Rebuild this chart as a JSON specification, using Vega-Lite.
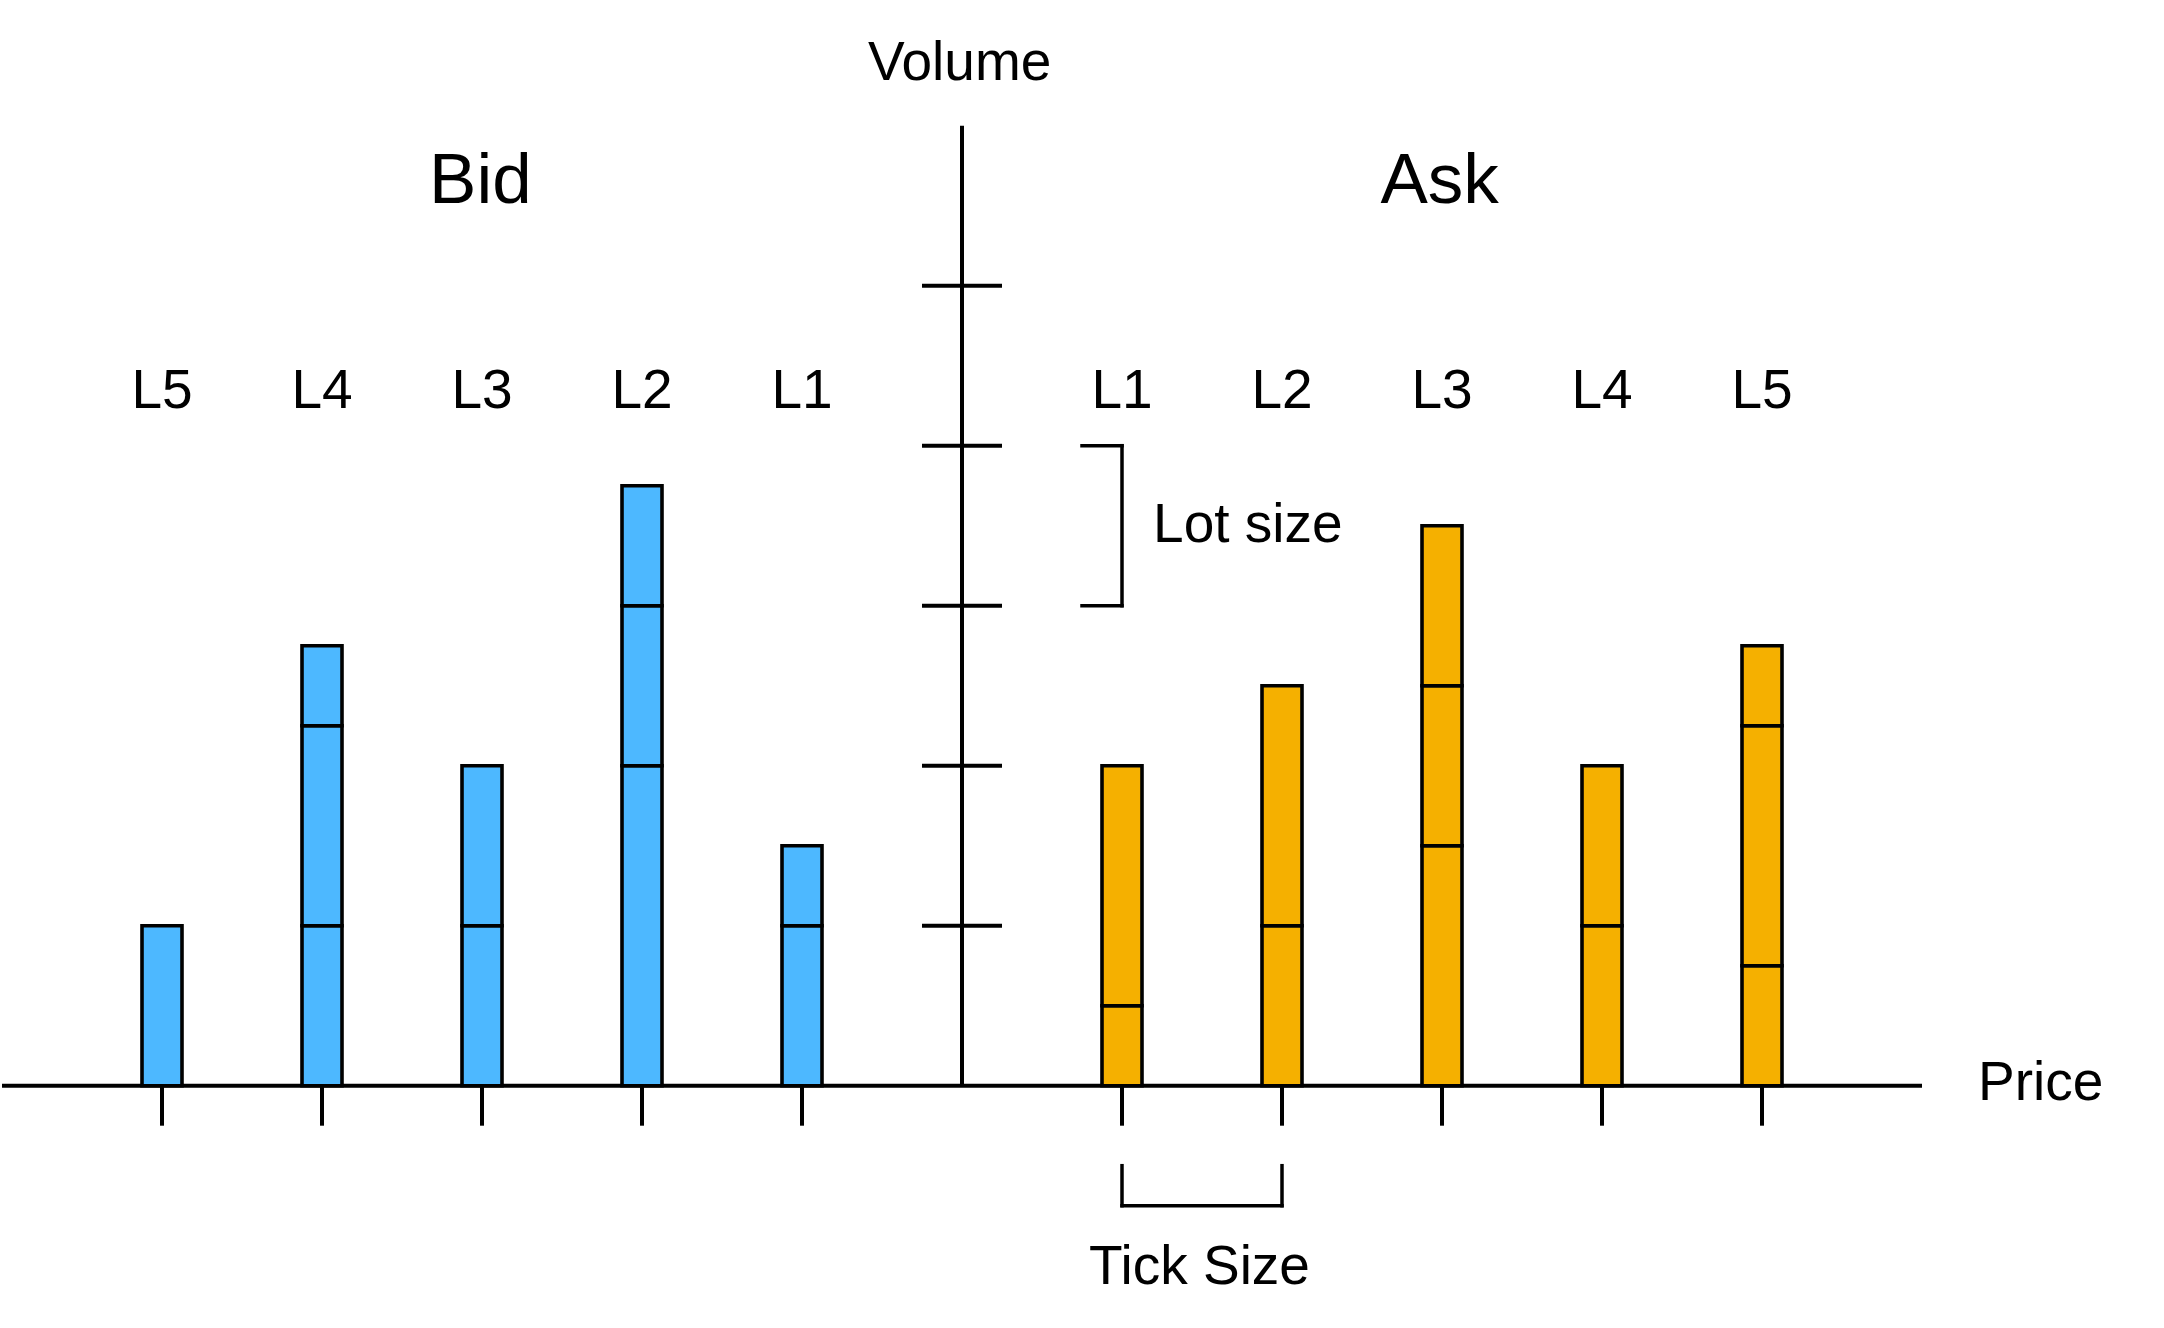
{
  "$schema": "https://vega.github.io/schema/vega-lite/v6.json",
  "width": 2164,
  "height": 1328,
  "padding": 0,
  "autosize": {"type": "fit", "contains": "padding"},
  "background": "white",
  "config": {"view": {"stroke": null}},
  "datasets": {
    "orders": [
      {"side": "Bid", "level": "L5", "pos": -5, "v0": 0, "v1": 1},
      {"side": "Bid", "level": "L4", "pos": -4, "v0": 0, "v1": 1},
      {"side": "Bid", "level": "L4", "pos": -4, "v0": 1, "v1": 2.25},
      {"side": "Bid", "level": "L4", "pos": -4, "v0": 2.25, "v1": 2.75},
      {"side": "Bid", "level": "L3", "pos": -3, "v0": 0, "v1": 1},
      {"side": "Bid", "level": "L3", "pos": -3, "v0": 1, "v1": 2},
      {"side": "Bid", "level": "L2", "pos": -2, "v0": 0, "v1": 2},
      {"side": "Bid", "level": "L2", "pos": -2, "v0": 2, "v1": 3},
      {"side": "Bid", "level": "L2", "pos": -2, "v0": 3, "v1": 3.75},
      {"side": "Bid", "level": "L1", "pos": -1, "v0": 0, "v1": 1},
      {"side": "Bid", "level": "L1", "pos": -1, "v0": 1, "v1": 1.5},
      {"side": "Ask", "level": "L1", "pos": 1, "v0": 0, "v1": 0.5},
      {"side": "Ask", "level": "L1", "pos": 1, "v0": 0.5, "v1": 2},
      {"side": "Ask", "level": "L2", "pos": 2, "v0": 0, "v1": 1},
      {"side": "Ask", "level": "L2", "pos": 2, "v0": 1, "v1": 2.5},
      {"side": "Ask", "level": "L3", "pos": 3, "v0": 0, "v1": 1.5},
      {"side": "Ask", "level": "L3", "pos": 3, "v0": 1.5, "v1": 2.5},
      {"side": "Ask", "level": "L3", "pos": 3, "v0": 2.5, "v1": 3.5},
      {"side": "Ask", "level": "L4", "pos": 4, "v0": 0, "v1": 1},
      {"side": "Ask", "level": "L4", "pos": 4, "v0": 1, "v1": 2},
      {"side": "Ask", "level": "L5", "pos": 5, "v0": 0, "v1": 0.75},
      {"side": "Ask", "level": "L5", "pos": 5, "v0": 0.75, "v1": 2.25},
      {"side": "Ask", "level": "L5", "pos": 5, "v0": 2.25, "v1": 2.75}
    ],
    "axes": [
      {"a": -6, "a2": 6, "b": 0, "b2": 0},
      {"a": 0, "a2": 0, "b": 0, "b2": 6},
      {"a": -0.25, "a2": 0.25, "b": 1, "b2": 1},
      {"a": -0.25, "a2": 0.25, "b": 2, "b2": 2},
      {"a": -0.25, "a2": 0.25, "b": 3, "b2": 3},
      {"a": -0.25, "a2": 0.25, "b": 4, "b2": 4},
      {"a": -0.25, "a2": 0.25, "b": 5, "b2": 5},
      {"a": -5, "a2": -5, "b": 0, "b2": -0.25},
      {"a": -4, "a2": -4, "b": 0, "b2": -0.25},
      {"a": -3, "a2": -3, "b": 0, "b2": -0.25},
      {"a": -2, "a2": -2, "b": 0, "b2": -0.25},
      {"a": -1, "a2": -1, "b": 0, "b2": -0.25},
      {"a": 1, "a2": 1, "b": 0, "b2": -0.25},
      {"a": 2, "a2": 2, "b": 0, "b2": -0.25},
      {"a": 3, "a2": 3, "b": 0, "b2": -0.25},
      {"a": 4, "a2": 4, "b": 0, "b2": -0.25},
      {"a": 5, "a2": 5, "b": 0, "b2": -0.25}
    ],
    "brackets": [
      {"a": 0.75, "a2": 1, "b": 4, "b2": 4},
      {"a": 1, "a2": 1, "b": 3, "b2": 4},
      {"a": 0.75, "a2": 1, "b": 3, "b2": 3},
      {"a": 1, "a2": 1, "b": -0.5, "b2": -0.75},
      {"a": 1, "a2": 2, "b": -0.75, "b2": -0.75},
      {"a": 2, "a2": 2, "b": -0.5, "b2": -0.75}
    ],
    "levels": [
      {"label": "L5", "a": -5, "b": 4.236},
      {"label": "L4", "a": -4, "b": 4.236},
      {"label": "L3", "a": -3, "b": 4.236},
      {"label": "L2", "a": -2, "b": 4.236},
      {"label": "L1", "a": -1, "b": 4.236},
      {"label": "L1", "a": 1, "b": 4.236},
      {"label": "L2", "a": 2, "b": 4.236},
      {"label": "L3", "a": 3, "b": 4.236},
      {"label": "L4", "a": 4, "b": 4.236},
      {"label": "L5", "a": 5, "b": 4.236}
    ],
    "titles": [
      {"label": "Bid", "a": -3.01, "b": 5.519},
      {"label": "Ask", "a": 2.985, "b": 5.519}
    ],
    "centered": [
      {"label": "Volume", "a": -0.015, "b": 6.285},
      {"label": "Tick Size", "a": 1.484, "b": -1.239}
    ],
    "lefttext": [
      {"label": "Lot size", "a": 1.194, "b": 3.398},
      {"label": "Price", "a": 6.35, "b": -0.089}
    ]
  },
  "layer": [
    {
      "data": {"name": "axes"},
      "mark": {"type": "rule", "stroke": "black", "strokeWidth": 4},
      "encoding": {
        "x": {"field": "a", "type": "quantitative", "scale": {"domain": [-6.0125, 7.5125], "nice": false, "zero": false, "padding": 0}, "axis": null},
        "x2": {"field": "a2"},
        "y": {"field": "b", "type": "quantitative", "scale": {"domain": [-1.5144, 6.7856], "nice": false, "zero": false, "padding": 0}, "axis": null},
        "y2": {"field": "b2"}
      }
    },
    {
      "data": {"name": "brackets"},
      "mark": {"type": "rule", "stroke": "black", "strokeWidth": 3.5, "strokeCap": "square"},
      "encoding": {
        "x": {"field": "a", "type": "quantitative"},
        "x2": {"field": "a2"},
        "y": {"field": "b", "type": "quantitative"},
        "y2": {"field": "b2"}
      }
    },
    {
      "data": {"name": "orders"},
      "mark": {"type": "bar", "size": 40, "stroke": "black", "strokeWidth": 3.6, "opacity": 1},
      "encoding": {
        "x": {"field": "pos", "type": "quantitative"},
        "y": {"field": "v0", "type": "quantitative"},
        "y2": {"field": "v1"},
        "color": {"field": "side", "type": "nominal", "scale": {"domain": ["Bid", "Ask"], "range": ["#4DB8FF", "#F5B000"]}, "legend": null}
      }
    },
    {
      "data": {"name": "levels"},
      "mark": {"type": "text", "font": "Liberation Sans", "fontSize": 55, "align": "center", "baseline": "alphabetic", "color": "black"},
      "encoding": {
        "x": {"field": "a", "type": "quantitative"},
        "y": {"field": "b", "type": "quantitative"},
        "text": {"field": "label"}
      }
    },
    {
      "data": {"name": "titles"},
      "mark": {"type": "text", "font": "Liberation Sans", "fontSize": 71, "align": "center", "baseline": "alphabetic", "color": "black"},
      "encoding": {
        "x": {"field": "a", "type": "quantitative"},
        "y": {"field": "b", "type": "quantitative"},
        "text": {"field": "label"}
      }
    },
    {
      "data": {"name": "centered"},
      "mark": {"type": "text", "font": "Liberation Sans", "fontSize": 55, "align": "center", "baseline": "alphabetic", "color": "black"},
      "encoding": {
        "x": {"field": "a", "type": "quantitative"},
        "y": {"field": "b", "type": "quantitative"},
        "text": {"field": "label"}
      }
    },
    {
      "data": {"name": "lefttext"},
      "mark": {"type": "text", "font": "Liberation Sans", "fontSize": 55, "align": "left", "baseline": "alphabetic", "color": "black"},
      "encoding": {
        "x": {"field": "a", "type": "quantitative"},
        "y": {"field": "b", "type": "quantitative"},
        "text": {"field": "label"}
      }
    }
  ]
}
